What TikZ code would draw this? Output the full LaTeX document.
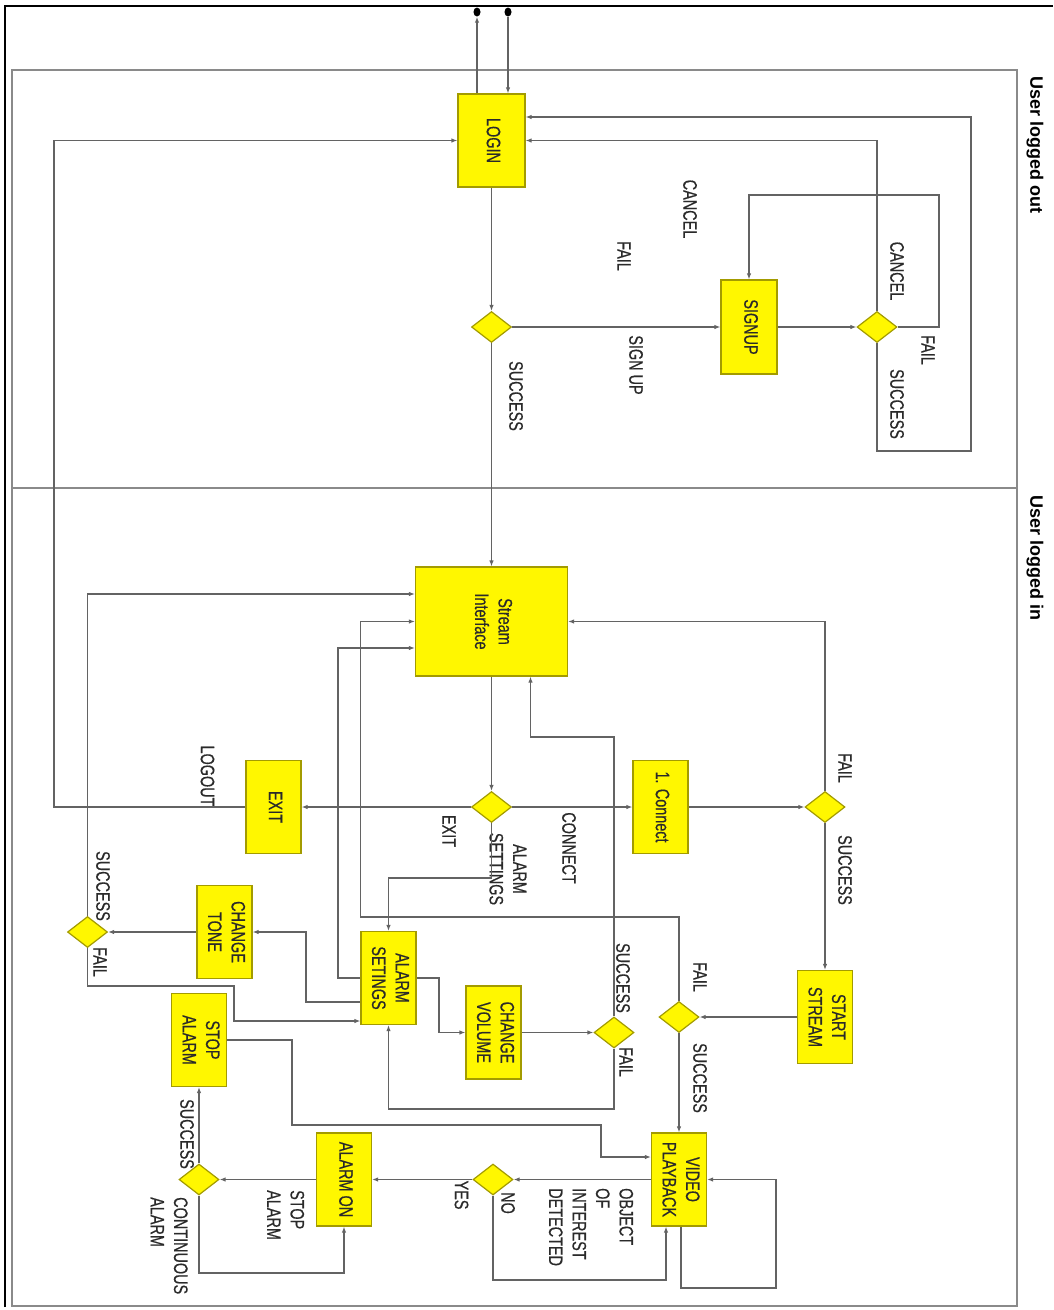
\documentclass[tikz,border=0pt]{standalone}
\usepackage{fontspec}
\usepackage{graphicx}
\setmainfont{Liberation Sans}
\newfontfamily\narrowsf[FakeStretch=0.74,FakeBold=0.5]{Liberation Sans}
\usetikzlibrary{positioning,arrows.meta,shapes.geometric,calc}
\definecolor{cFill}{HTML}{FFF700}
\definecolor{cEdge}{HTML}{A39B00}
\definecolor{cLine}{HTML}{636363}
\definecolor{cText}{HTML}{2A2A2A}
\definecolor{cLane}{HTML}{8A8A8A}
\newcommand{\lblfont}{\narrowsf\fontsize{19.5}{23.5}\selectfont}
\newcommand{\lanefont}{\bfseries\fontsize{18}{23}\selectfont}
\newcommand{\vtxt}[2][c]{\rotatebox[origin=c]{-90}{\begin{tabular}{@{}#1@{}}#2\end{tabular}}}
\tikzset{
  >={Latex[length=6pt,width=4.5pt]},
  sbox/.style={draw=cEdge,fill=cFill,line width=1.2pt,inner sep=0pt,
               minimum width=55pt,minimum height=93pt,font=\lblfont,text=cText},
  sdec/.style={diamond,draw=cEdge,fill=cFill,line width=1.2pt,inner sep=0pt,
               minimum width=40pt,minimum height=31pt},
  slbl/.style={inner sep=0pt,font=\lblfont,text=cText},
  slane/.style={inner sep=0pt,font=\lanefont,text=black},
  sar/.style={->,line width=1.3pt,cLine},
  sdot/.style={ellipse,fill=black,minimum width=7pt,minimum height=9pt,inner sep=0pt},
}
\begin{document}
\begin{tikzpicture}[x=1pt,y=-1pt]
  \useasboundingbox (0,0) rectangle (1053,1310);
  % frame and swimlanes
  \draw[line width=1.6pt] (5,1307) -- (5,6) -- (1053,6);
  \draw[cLane,line width=1.4pt] (12,70) rectangle (1017,1306);
  \draw[cLane,line width=1.4pt] (12,488) -- (1017,488);
  \node[slane] (lout) at (1035,145) {\vtxt{User logged out}};
  \node[slane] (lin) at (1035,558) {\vtxt{User logged in}};

  % user logged out
  \node[sbox,minimum width=67pt] (login) at (491.5,140.5) {\vtxt{LOGIN}};
  \node[sdec] (dlog) at (491.5,327) {};
  \node[sbox,minimum width=56pt,minimum height=94pt] (signup) at (749,327) {\vtxt{SIGNUP}};
  \node[sdec] (dsign) at (877,327) {};
  \node[sdot] (pout) at (477,12) {};
  \node[sdot] (pin) at (508,12) {};

  \node[slbl] (lsl) at (514,396) {\vtxt{SUCCESS}};
  \node[slbl] (lsu) at (634,365) {\vtxt{SIGN UP}};
  \node[slbl] (lfl) at (622,256) {\vtxt{FAIL}};
  \node[slbl] (lcl) at (688,209) {\vtxt{CANCEL}};
  \node[slbl] (lcs) at (895,271) {\vtxt{CANCEL}};
  \node[slbl] (lfs) at (926,350) {\vtxt{FAIL}};
  \node[slbl] (lss) at (895,404) {\vtxt{SUCCESS}};

  % user logged in
  \node[sbox,minimum width=152pt,minimum height=109pt] (stream) at (491.5,621.5) {\vtxt{Stream\\Interface}};
  \node[sdec] (dmain) at (491.5,807) {};
  \node[sbox] (exitb) at (273.5,807) {\vtxt{EXIT}};
  \node[sbox] (conn) at (660.5,807) {\vtxt{1. Connect}};
  \node[sdec] (dconn) at (825,807) {};
  \node[sbox] (start) at (825,1017) {\vtxt{START\\STREAM}};
  \node[sdec] (dstart) at (679,1017) {};
  \node[sbox] (video) at (679,1179.5) {\vtxt{VIDEO\\PLAYBACK}};
  \node[sdec] (dobj) at (493,1179.5) {};
  \node[sbox] (alon) at (344,1179.5) {\vtxt{ALARM ON}};
  \node[sdec] (dalon) at (199,1179.5) {};
  \node[sbox] (stopal) at (199,1040) {\vtxt{STOP\\ALARM}};
  \node[sbox] (alset) at (388.5,978) {\vtxt{ALARM\\SETINGS}};
  \node[sbox] (chvol) at (493.5,1032.5) {\vtxt{CHANGE\\VOLUME}};
  \node[sdec] (dvol) at (614,1032.5) {};
  \node[sbox] (chtone) at (224.5,932) {\vtxt{CHANGE\\TONE}};
  \node[sdec] (dtone) at (87.5,932) {};

  \node[slbl] (llo) at (205.5,776) {\vtxt{LOGOUT}};
  \node[slbl] (lex) at (447,831) {\vtxt{EXIT}};
  \node[slbl] (lco) at (567,848) {\vtxt{CONNECT}};
  \node[slbl] (las) at (506,869) {\vtxt{ALARM\\SETTINGS}};
  \node[slbl] (lfc) at (843,768) {\vtxt{FAIL}};
  \node[slbl] (lsc) at (843,870) {\vtxt{SUCCESS}};
  \node[slbl] (lft) at (698,977) {\vtxt{FAIL}};
  \node[slbl] (lst) at (698,1078) {\vtxt{SUCCESS}};
  \node[slbl] (lsv) at (621,978) {\vtxt{SUCCESS}};
  \node[slbl] (lfv) at (624,1062) {\vtxt{FAIL}};
  \node[slbl] (lsn) at (101,886) {\vtxt{SUCCESS}};
  \node[slbl] (lfn) at (98,962) {\vtxt{FAIL}};
  \node[slbl] (lsa) at (185,1134) {\vtxt{SUCCESS}};
  \node[slbl,anchor=north] (lob) at (589,1188) {\vtxt[l]{OBJECT\\OF\\INTEREST\\DETECTED}};
  \node[slbl] (lno) at (506,1203) {\vtxt{NO}};
  \node[slbl] (lye) at (459.5,1195) {\vtxt{YES}};
  \node[slbl,anchor=north] (lsp) at (283.5,1190) {\vtxt[l]{STOP\\ALARM}};
  \node[slbl,anchor=north] (lca) at (167,1197) {\vtxt[l]{CONTINUOUS\\ALARM}};

  % connectors, logged out
  \draw[sar] (pin) -- (pin |- login.north);
  \draw[sar] (pout |- login.north) -- (pout);
  \draw[sar] (login) -- (dlog);
  \draw[sar] (dlog) -- (signup);
  \draw[sar] (signup) -- (dsign);
  \draw[sar] (dsign.north) |- (login.east);
  \draw[sar] (dsign.east) -| (939,195) -| (signup.north);
  \draw[sar] (dsign.south) |- (971,451) |- (login.east |- 0,117);
  \draw[sar] (exitb.west) -| (54,140.5) -- (login.west);
  \draw[sar] (dlog) -- (stream);

  % connectors, logged in
  \draw[sar] (stream) -- (dmain);
  \draw[sar] (dmain) -- (exitb);
  \draw[sar] (dmain) -- (conn);
  \draw[sar] (dmain.south) |- (388.5,878) -- (alset.north);
  \draw[sar] (conn) -- (dconn);
  \draw[sar] (dconn.north) |- (stream.east);
  \draw[sar] (dconn) -- (start);
  \draw[sar] (start) -- (dstart);
  \draw[sar] (dstart.north) |- (360.5,917) |- (stream.west);
  \draw[sar] (dstart) -- (video);
  \draw[sar] ([xshift=2pt]video.south) |- (776,1288) |- (video.east);
  \draw[sar] (video) -- (dobj);
  \draw[sar] (dobj.south) |- (666,1280) -- ([xshift=-13pt]video.south);
  \draw[sar] (dobj) -- (alon);
  \draw[sar] (alon) -- (dalon);
  \draw[sar] (dalon.south) |- (344,1273) -- (alon.south);
  \draw[sar] (dalon) -- (stopal);
  \draw[sar] (stopal.east) -| (292,1125) -| (601,1157) -- (video.west |- 0,1157);
  \draw[sar] (alset.east) -| (439,1032.5) -- (chvol.west);
  \draw[sar] (chvol) -- (dvol);
  \draw[sar] (dvol.south) |- (388.5,1109) -- (alset.south);
  \draw[sar] (dvol.north) |- (530.5,737) -- (stream.south -| 530.5,0);
  \draw[sar] (alset.west) -| (338,648) -- (stream.west |- 0,648);
  \draw[sar] (alset.west |- 0,1002) -| (306,932) -- (chtone.east);
  \draw[sar] (chtone) -- (dtone);
  \draw[sar] (dtone.north) |- (stream.west |- 0,594);
  \draw[sar] (dtone.south) |- (234,986) |- (alset.west |- 0,1021);
\end{tikzpicture}
\end{document}
